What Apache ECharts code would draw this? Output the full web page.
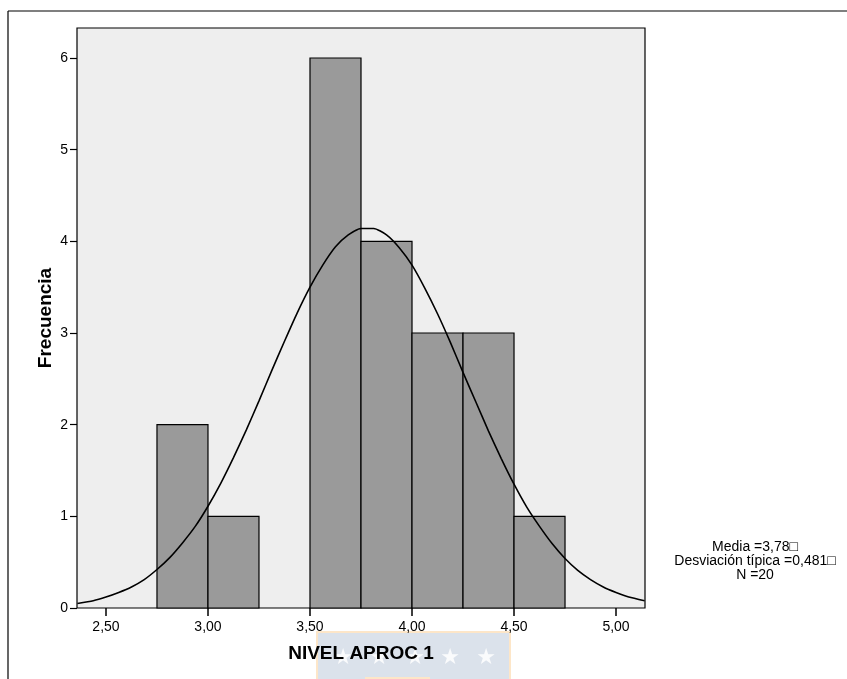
<!DOCTYPE html>
<html lang="es">
<head>
  <meta charset="UTF-8">
  <title>Histograma NIVEL APROC 1</title>
  <style>
    html, body { margin: 0; padding: 0; background: #fff; }
    #chart { width: 847px; height: 679px; }
  </style>
  <script src="https://cdn.jsdelivr.net/npm/echarts@6/dist/echarts.min.js"></script>
</head>
<body>
  <div id="chart"></div>
  <script>
    // intervalos del histograma (limite inferior, limite superior) y frecuencias
    var binStart = [2.75, 3.00, 3.50, 3.75, 4.00, 4.25, 4.50];
    var binEnd   = [3.00, 3.25, 3.75, 4.00, 4.25, 4.50, 4.75];
    var freq     = [2, 1, 6, 4, 3, 3, 1];

    // curva normal
    var curveX = [2.36, 2.4375, 2.50, 2.5625, 2.625, 2.6875, 2.75, 2.8125, 2.875, 2.9375, 3.00, 3.0625, 3.125, 3.1875, 3.25, 3.3125, 3.375, 3.4375, 3.50, 3.5625, 3.625, 3.6875, 3.75, 3.8125, 3.875, 3.9375, 4.00, 4.0625, 4.125, 4.1875, 4.25, 4.3125, 4.375, 4.4375, 4.50, 4.5625, 4.625, 4.6875, 4.75, 4.8125, 4.875, 4.9375, 5.00, 5.0625, 5.14];
    var curveY = [0.05, 0.08, 0.12, 0.17, 0.23, 0.31, 0.42, 0.55, 0.71, 0.89, 1.11, 1.36, 1.64, 1.94, 2.26, 2.59, 2.91, 3.22, 3.50, 3.74, 3.94, 4.07, 4.14, 4.14, 4.07, 3.93, 3.74, 3.49, 3.21, 2.90, 2.57, 2.25, 1.93, 1.63, 1.35, 1.10, 0.89, 0.70, 0.54, 0.41, 0.31, 0.23, 0.17, 0.12, 0.08];

    var xTicks = ['2,50', '3,00', '3,50', '4,00', '4,50', '5,00'];
    var statLines = ['Media =3,78\u25A1', 'Desviación típica =0,481\u25A1', 'N =20'];

    var bins = binStart.map(function (s, i) { return [s, binEnd[i], freq[i]]; });
    var curve = curveX.map(function (x, i) { return [x, curveY[i]]; });

    var font = 'Liberation Sans, Arial, sans-serif';
    var chart = echarts.init(document.getElementById('chart'));

    // estrellas de la marca de agua
    var starX = [343, 379, 415, 450, 486];
    var stars = starX.map(function (x) {
      return { type: 'text', x: x, y: 658, z: -1,
        style: { text: '★', fill: 'rgba(255,255,255,0.85)', font: '22px DejaVu Sans', align: 'center', verticalAlign: 'middle' } };
    });

    var option = {
      animation: false,
      backgroundColor: '#fff',
      grid: { left: 77, top: 28, width: 568, height: 580, show: true, backgroundColor: '#eeeeee', borderColor: '#000', borderWidth: 1.2 },
      xAxis: {
        type: 'value', min: 2.358, max: 5.142, interval: 0.5,
        name: 'NIVEL APROC 1', nameLocation: 'middle', nameGap: 36,
        nameTextStyle: { fontFamily: font, fontSize: 19, fontWeight: 'bold', color: '#000' },
        splitLine: { show: false },
        axisLine: { show: false },
        axisTick: { show: true, length: 8, lineStyle: { color: '#000', width: 1.5 }, customValues: [2.5, 3, 3.5, 4, 4.5, 5] },
        axisLabel: {
          fontFamily: font, fontSize: 14, color: '#000', margin: 12,
          customValues: [2.5, 3, 3.5, 4, 4.5, 5],
          formatter: function (v) { return xTicks[Math.round((v - 2.5) / 0.5)]; }
        }
      },
      yAxis: {
        type: 'value', min: 0, max: 6.327, interval: 1,
        name: 'Frecuencia', nameLocation: 'middle', nameGap: 22, nameRotate: 90, nameMoveOverlap: false,
        nameTextStyle: { fontFamily: font, fontSize: 19, fontWeight: 'bold', color: '#000' },
        splitLine: { show: false },
        axisLine: { show: false },
        axisTick: { show: true, length: 7, lineStyle: { color: '#000', width: 1.2 }, customValues: [0, 1, 2, 3, 4, 5, 6] },
        axisLabel: { fontFamily: font, fontSize: 14, color: '#000', margin: 9, customValues: [0, 1, 2, 3, 4, 5, 6] }
      },
      series: [
        {
          type: 'custom',
          data: bins,
          renderItem: function (params, api) {
            var p0 = api.coord([api.value(0), api.value(2)]);
            var p1 = api.coord([api.value(1), 0]);
            return {
              type: 'rect',
              shape: { x: p0[0], y: p0[1], width: p1[0] - p0[0], height: p1[1] - p0[1] },
              style: { fill: '#9a9a9a', stroke: '#000', lineWidth: 1.2 }
            };
          },
          z: 2
        },
        {
          type: 'line', data: curve, smooth: 0.2, symbol: 'none',
          lineStyle: { color: '#000', width: 1.6 }, z: 3
        }
      ],
      graphic: [
        // marco exterior
        { type: 'line', shape: { x1: 8, y1: 11, x2: 847, y2: 11 }, style: { stroke: '#000', lineWidth: 1.2 } },
        { type: 'line', shape: { x1: 8, y1: 11, x2: 8, y2: 679 }, style: { stroke: '#000', lineWidth: 1.2 } },
        // marca de agua
        { type: 'rect', shape: { x: 317, y: 632, width: 193, height: 52 }, style: { fill: '#dbe2eb', stroke: '#fde6c8', lineWidth: 2 }, z: -2 },
        { type: 'rect', shape: { x: 365, y: 677, width: 65, height: 6 }, style: { fill: '#fde6c8' }, z: -2 },
        // estadisticos
        { type: 'text', x: 755, y: 547, style: { text: statLines[0], fill: '#000', font: '14px ' + font, align: 'center', verticalAlign: 'middle' } },
        { type: 'text', x: 755, y: 561, style: { text: statLines[1], fill: '#000', font: '14px ' + font, align: 'center', verticalAlign: 'middle' } },
        { type: 'text', x: 755, y: 575, style: { text: statLines[2], fill: '#000', font: '14px ' + font, align: 'center', verticalAlign: 'middle' } }
      ].concat(stars)
    };
    chart.setOption(option);
  </script>
</body>
</html>
